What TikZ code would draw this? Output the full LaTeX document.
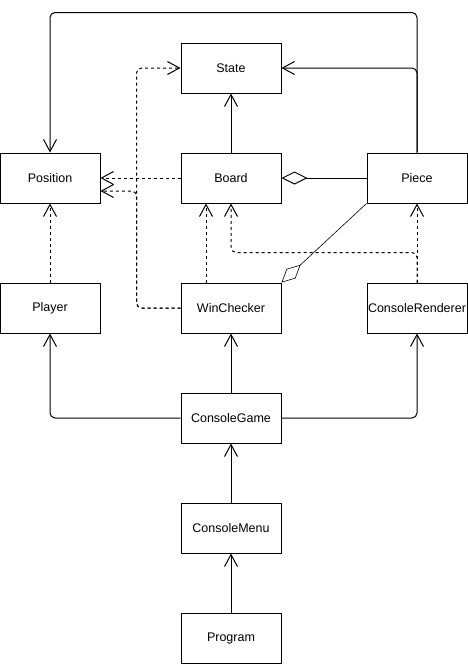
\documentclass[tikz,border=0pt]{standalone}
\usepackage{fontspec}
\setmainfont{Liberation Sans}
\usetikzlibrary{arrows.meta,positioning}

\begin{document}
\begin{tikzpicture}[x=1pt,y=1pt,>={Straight Barb[length=12pt,width=13pt]},line width=1pt,
	node distance=110pt,
	class node/.style={rectangle,draw,minimum width=100pt,minimum height=50pt,inner sep=0pt,font=\fontsize{12.5}{14}\selectfont},
	uses/.style={->,dash pattern=on 3pt off 3pt},
	has/.style={-{Diamond[open,length=26pt,width=13pt]}}]
	
	\useasboundingbox (0,0) rectangle (468,-664);
	
	\node[class node] (state) at (231,-68) {State};
	\node[class node] (board) [below of=state] {Board};
	\node[class node] (position) [left of=board, node distance=181pt] {Position};
	\node[class node] (piece) [right of=board, node distance=186pt] {Piece};
	\node[class node] (winchecker) [below of=board, node distance=130pt] {WinChecker};
	\node[class node] (player) [below of=position, node distance=130pt] {Player};
	\node[class node] (renderer) [below of=piece, node distance=130pt] {ConsoleRenderer};
	\node[class node] (game) [below of=winchecker] {ConsoleGame};
	\node[class node] (menu) [below of=game] {ConsoleMenu};
	\node[class node] (program) [below of=menu] {Program};
	
	\draw[->,rounded corners=5pt] (piece.north) -- ++(0,140) -| (position.north);
	\draw[->,rounded corners=5pt] (piece.north) |- (state.east);
	\draw[->] (board) -- (state);
	\draw[has] (piece) -- (board);
	\draw[has,line width=0.6pt] (piece.south west) -- (winchecker.north east);
	
	\draw[uses] (board) -- (position);
	\draw[uses,rounded corners=5pt] (winchecker.west) -- ++(-44,0) |- (state.west);
	\draw[uses,rounded corners=5pt] (winchecker.west) -- ++(-44,0) |- ([yshift=-13pt]position.east);
	\draw[uses] ([xshift=-25pt]winchecker.north) -- ([xshift=-25pt]board.south);
	\draw[uses] (renderer) -- (piece);
	\draw[uses,rounded corners=5pt] (renderer.north) -- ++(0,30) -| (board.south);
	\draw[uses] (player) -- (position);
	
	\draw[->] (game) -- (winchecker);
	\draw[->,rounded corners=5pt] (game.west) -| (player.south);
	\draw[->,rounded corners=5pt] (game.east) -| (renderer.south);
	\draw[->] (menu) -- (game);
	\draw[->] (program) -- (menu);
\end{tikzpicture}
\end{document}
